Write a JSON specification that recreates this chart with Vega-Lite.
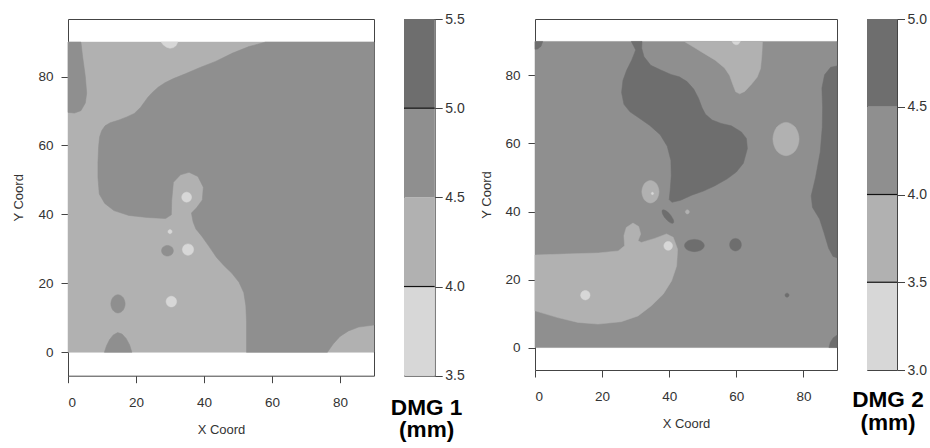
{
"$schema":"https://vega.github.io/schema/vega-lite/v6.json",
"background":"white",
"padding":{"left":12,"top":11,"right":0,"bottom":0},
"config":{
 "font":"Liberation Sans",
 "view":{"stroke":"#444","strokeWidth":1},
 "axis":{"labelFont":"Liberation Sans","labelFontSize":13.5,"labelColor":"#333","titleFont":"Liberation Sans","titleFontSize":13,"titleFontWeight":"normal","titleColor":"#333","tickColor":"#444","tickSize":7,"domain":false,"grid":false}
},
"datasets":{
"d1":[
{"s":"bg","v":4,"x":0,"y":0},{"s":"bg","v":4,"x":90,"y":0},{"s":"bg","v":4,"x":90,"y":90},{"s":"bg","v":4,"x":0,"y":90},
{"s":"pA","v":4.5,"x":58.1,"y":90},{"s":"pA","v":4.5,"x":53.2,"y":88.7},{"s":"pA","v":4.5,"x":48.4,"y":86.8},{"s":"pA","v":4.5,"x":43.4,"y":84.4},{"s":"pA","v":4.5,"x":39.0,"y":82.7},{"s":"pA","v":4.5,"x":34.5,"y":80.8},{"s":"pA","v":4.5,"x":31.0,"y":79.4},{"s":"pA","v":4.5,"x":28.5,"y":78.2},{"s":"pA","v":4.5,"x":26.5,"y":76.9},{"s":"pA","v":4.5,"x":24.8,"y":75.4},{"s":"pA","v":4.5,"x":23.5,"y":74.0},{"s":"pA","v":4.5,"x":21.3,"y":71.0},{"s":"pA","v":4.5,"x":19.5,"y":69.3},{"s":"pA","v":4.5,"x":17.3,"y":68.3},{"s":"pA","v":4.5,"x":15.0,"y":67.4},{"s":"pA","v":4.5,"x":12.4,"y":66.6},{"s":"pA","v":4.5,"x":10.9,"y":65.7},{"s":"pA","v":4.5,"x":9.9,"y":64.3},{"s":"pA","v":4.5,"x":9.3,"y":62.5},{"s":"pA","v":4.5,"x":9.0,"y":59.7},{"s":"pA","v":4.5,"x":8.8,"y":55.0},{"s":"pA","v":4.5,"x":8.8,"y":50.8},{"s":"pA","v":4.5,"x":9.2,"y":45.9},{"s":"pA","v":4.5,"x":10.8,"y":43.2},{"s":"pA","v":4.5,"x":13.5,"y":41.1},{"s":"pA","v":4.5,"x":17.9,"y":39.7},{"s":"pA","v":4.5,"x":23.3,"y":39.1},{"s":"pA","v":4.5,"x":28.7,"y":38.8},{"s":"pA","v":4.5,"x":30.4,"y":39.9},{"s":"pA","v":4.5,"x":30.5,"y":44.0},{"s":"pA","v":4.5,"x":31.0,"y":49.3},{"s":"pA","v":4.5,"x":33.1,"y":51.5},{"s":"pA","v":4.5,"x":35.6,"y":52.2},{"s":"pA","v":4.5,"x":38.2,"y":51.0},{"s":"pA","v":4.5,"x":39.8,"y":47.9},{"s":"pA","v":4.5,"x":39.5,"y":44.2},{"s":"pA","v":4.5,"x":37.8,"y":41.9},{"s":"pA","v":4.5,"x":36.3,"y":40.4},{"s":"pA","v":4.5,"x":36.8,"y":37.8},{"s":"pA","v":4.5,"x":37.6,"y":35.8},{"s":"pA","v":4.5,"x":39.4,"y":33.6},{"s":"pA","v":4.5,"x":41.4,"y":30.8},{"s":"pA","v":4.5,"x":43.7,"y":27.5},{"s":"pA","v":4.5,"x":45.9,"y":25.1},{"s":"pA","v":4.5,"x":48.2,"y":22.9},{"s":"pA","v":4.5,"x":50.3,"y":20.3},{"s":"pA","v":4.5,"x":51.7,"y":17.3},{"s":"pA","v":4.5,"x":52.3,"y":13.5},{"s":"pA","v":4.5,"x":52.5,"y":9.0},{"s":"pA","v":4.5,"x":52.5,"y":0},{"s":"pA","v":4.5,"x":76.3,"y":0},{"s":"pA","v":4.5,"x":78.0,"y":2.4},{"s":"pA","v":4.5,"x":80.0,"y":4.6},{"s":"pA","v":4.5,"x":82.5,"y":6.2},{"s":"pA","v":4.5,"x":85.5,"y":7.3},{"s":"pA","v":4.5,"x":90,"y":7.9},{"s":"pA","v":4.5,"x":90,"y":90},
{"s":"pB","v":4.5,"x":0,"y":90},{"s":"pB","v":4.5,"x":3.8,"y":90},{"s":"pB","v":4.5,"x":4.3,"y":85.8},{"s":"pB","v":4.5,"x":5.1,"y":80},{"s":"pB","v":4.5,"x":5.5,"y":75.2},{"s":"pB","v":4.5,"x":5.1,"y":72.3},{"s":"pB","v":4.5,"x":3.8,"y":70.1},{"s":"pB","v":4.5,"x":1.9,"y":69.4},{"s":"pB","v":4.5,"x":0,"y":69.6},
{"s":"pD","v":4.5,"x":10.7,"y":0},{"s":"pD","v":4.5,"x":11.3,"y":1.8},{"s":"pD","v":4.5,"x":12.2,"y":3.6},{"s":"pD","v":4.5,"x":13.3,"y":5.0},{"s":"pD","v":4.5,"x":14.6,"y":5.7},{"s":"pD","v":4.5,"x":15.9,"y":5.3},{"s":"pD","v":4.5,"x":17.1,"y":4.0},{"s":"pD","v":4.5,"x":18.1,"y":2.2},{"s":"pD","v":4.5,"x":18.8,"y":0},
{"s":"e1","v":4.5,"x":16.8,"y":14.05},{"s":"e1","v":4.5,"x":16.18,"y":15.92},{"s":"e1","v":4.5,"x":14.7,"y":16.7},{"s":"e1","v":4.5,"x":13.22,"y":15.92},{"s":"e1","v":4.5,"x":12.6,"y":14.05},{"s":"e1","v":4.5,"x":13.22,"y":12.18},{"s":"e1","v":4.5,"x":14.7,"y":11.4},{"s":"e1","v":4.5,"x":16.18,"y":12.18},
{"s":"e2","v":4.5,"x":31.0,"y":29.45},{"s":"e2","v":4.5,"x":30.49,"y":30.55},{"s":"e2","v":4.5,"x":29.25,"y":31.0},{"s":"e2","v":4.5,"x":28.01,"y":30.55},{"s":"e2","v":4.5,"x":27.5,"y":29.45},{"s":"e2","v":4.5,"x":28.01,"y":28.35},{"s":"e2","v":4.5,"x":29.25,"y":27.9},{"s":"e2","v":4.5,"x":30.49,"y":28.35},
{"s":"pC","v":3.5,"x":27.4,"y":90},{"s":"pC","v":3.5,"x":28.0,"y":89.2},{"s":"pC","v":3.5,"x":29.0,"y":88.5},{"s":"pC","v":3.5,"x":30.0,"y":88.2},{"s":"pC","v":3.5,"x":31.0,"y":88.4},{"s":"pC","v":3.5,"x":31.8,"y":89.0},{"s":"pC","v":3.5,"x":32.3,"y":90},
{"s":"e3","v":3.5,"x":36.35,"y":45},{"s":"e3","v":3.5,"x":35.93,"y":46.03},{"s":"e3","v":3.5,"x":34.9,"y":46.45},{"s":"e3","v":3.5,"x":33.87,"y":46.03},{"s":"e3","v":3.5,"x":33.45,"y":45},{"s":"e3","v":3.5,"x":33.87,"y":43.97},{"s":"e3","v":3.5,"x":34.9,"y":43.55},{"s":"e3","v":3.5,"x":35.93,"y":43.97},
{"s":"e4","v":3.5,"x":36.95,"y":29.8},{"s":"e4","v":3.5,"x":36.47,"y":30.97},{"s":"e4","v":3.5,"x":35.3,"y":31.45},{"s":"e4","v":3.5,"x":34.13,"y":30.97},{"s":"e4","v":3.5,"x":33.65,"y":29.8},{"s":"e4","v":3.5,"x":34.13,"y":28.63},{"s":"e4","v":3.5,"x":35.3,"y":28.15},{"s":"e4","v":3.5,"x":36.47,"y":28.63},
{"s":"e5","v":3.5,"x":31.95,"y":14.7},{"s":"e5","v":3.5,"x":31.5,"y":15.8},{"s":"e5","v":3.5,"x":30.4,"y":16.25},{"s":"e5","v":3.5,"x":29.3,"y":15.8},{"s":"e5","v":3.5,"x":28.85,"y":14.7},{"s":"e5","v":3.5,"x":29.3,"y":13.6},{"s":"e5","v":3.5,"x":30.4,"y":13.15},{"s":"e5","v":3.5,"x":31.5,"y":13.6},
{"s":"e6","v":3.5,"x":30.6,"y":35},{"s":"e6","v":3.5,"x":30.42,"y":35.42},{"s":"e6","v":3.5,"x":30,"y":35.6},{"s":"e6","v":3.5,"x":29.58,"y":35.42},{"s":"e6","v":3.5,"x":29.4,"y":35},{"s":"e6","v":3.5,"x":29.58,"y":34.58},{"s":"e6","v":3.5,"x":30,"y":34.4},{"s":"e6","v":3.5,"x":30.42,"y":34.58}
],
"d2":[
{"s":"bg","v":4,"x":0,"y":0},{"s":"bg","v":4,"x":90,"y":0},{"s":"bg","v":4,"x":90,"y":90},{"s":"bg","v":4,"x":0,"y":90},
{"s":"pA","v":4.5,"x":28.7,"y":90},{"s":"pA","v":4.5,"x":30.0,"y":87.5},{"s":"pA","v":4.5,"x":28.8,"y":84.5},{"s":"pA","v":4.5,"x":27.3,"y":81.5},{"s":"pA","v":4.5,"x":26.2,"y":78.5},{"s":"pA","v":4.5,"x":25.8,"y":75},{"s":"pA","v":4.5,"x":26.5,"y":71.5},{"s":"pA","v":4.5,"x":28.3,"y":69.3},{"s":"pA","v":4.5,"x":31,"y":67.5},{"s":"pA","v":4.5,"x":34.2,"y":65.3},{"s":"pA","v":4.5,"x":37.3,"y":62.6},{"s":"pA","v":4.5,"x":39.4,"y":59.2},{"s":"pA","v":4.5,"x":40.5,"y":55},{"s":"pA","v":4.5,"x":40.6,"y":50.5},{"s":"pA","v":4.5,"x":40.3,"y":46.5},{"s":"pA","v":4.5,"x":40,"y":43.5},{"s":"pA","v":4.5,"x":40.8,"y":42.7},{"s":"pA","v":4.5,"x":43.4,"y":43.3},{"s":"pA","v":4.5,"x":46.7,"y":44.8},{"s":"pA","v":4.5,"x":50.2,"y":46},{"s":"pA","v":4.5,"x":53.5,"y":47.5},{"s":"pA","v":4.5,"x":57.3,"y":49.6},{"s":"pA","v":4.5,"x":60,"y":51.6},{"s":"pA","v":4.5,"x":62.1,"y":54.2},{"s":"pA","v":4.5,"x":63.3,"y":58.5},{"s":"pA","v":4.5,"x":63,"y":61.5},{"s":"pA","v":4.5,"x":61.5,"y":63.4},{"s":"pA","v":4.5,"x":58.5,"y":65.2},{"s":"pA","v":4.5,"x":55.5,"y":65.9},{"s":"pA","v":4.5,"x":52.8,"y":66.9},{"s":"pA","v":4.5,"x":50.8,"y":68.6},{"s":"pA","v":4.5,"x":49.8,"y":70.5},{"s":"pA","v":4.5,"x":48.7,"y":73.4},{"s":"pA","v":4.5,"x":47.3,"y":76},{"s":"pA","v":4.5,"x":45.3,"y":78.2},{"s":"pA","v":4.5,"x":43,"y":79.6},{"s":"pA","v":4.5,"x":40.5,"y":80.3},{"s":"pA","v":4.5,"x":37.5,"y":81.6},{"s":"pA","v":4.5,"x":34.5,"y":83},{"s":"pA","v":4.5,"x":32.5,"y":85.5},{"s":"pA","v":4.5,"x":31.8,"y":88},{"s":"pA","v":4.5,"x":31.9,"y":90},
{"s":"pB","v":4.5,"x":90,"y":82.8},{"s":"pB","v":4.5,"x":88.1,"y":82.4},{"s":"pB","v":4.5,"x":86.3,"y":80.2},{"s":"pB","v":4.5,"x":85.5,"y":76.3},{"s":"pB","v":4.5,"x":85.7,"y":70.6},{"s":"pB","v":4.5,"x":85.6,"y":64.7},{"s":"pB","v":4.5,"x":85.0,"y":57.5},{"s":"pB","v":4.5,"x":83.6,"y":50.0},{"s":"pB","v":4.5,"x":82.3,"y":44.6},{"s":"pB","v":4.5,"x":82.7,"y":41.2},{"s":"pB","v":4.5,"x":84.8,"y":37.8},{"s":"pB","v":4.5,"x":86.1,"y":33.8},{"s":"pB","v":4.5,"x":87.5,"y":29.2},{"s":"pB","v":4.5,"x":88.8,"y":26.8},{"s":"pB","v":4.5,"x":90,"y":26.4},
{"s":"pC","v":4.5,"x":0,"y":90},{"s":"pC","v":4.5,"x":2.3,"y":90},{"s":"pC","v":4.5,"x":1.8,"y":88.6},{"s":"pC","v":4.5,"x":0.8,"y":87.8},{"s":"pC","v":4.5,"x":0,"y":87.7},
{"s":"pD","v":4.5,"x":87.6,"y":0},{"s":"pD","v":4.5,"x":88.0,"y":1.5},{"s":"pD","v":4.5,"x":88.9,"y":2.9},{"s":"pD","v":4.5,"x":90,"y":3.6},{"s":"pD","v":4.5,"x":90,"y":0},
{"s":"e1","v":4.5,"x":41.2,"y":36.6},{"s":"e1","v":4.5,"x":41.23,"y":37.56},{"s":"e1","v":4.5,"x":40.29,"y":39.08},{"s":"e1","v":4.5,"x":38.94,"y":40.26},{"s":"e1","v":4.5,"x":37.99,"y":40.41},{"s":"e1","v":4.5,"x":37.97,"y":39.44},{"s":"e1","v":4.5,"x":38.91,"y":37.92},{"s":"e1","v":4.5,"x":40.26,"y":36.74},
{"s":"e2","v":4.5,"x":50.45,"y":30},{"s":"e2","v":4.5,"x":49.59,"y":31.27},{"s":"e2","v":4.5,"x":47.5,"y":31.8},{"s":"e2","v":4.5,"x":45.41,"y":31.27},{"s":"e2","v":4.5,"x":44.55,"y":30},{"s":"e2","v":4.5,"x":45.41,"y":28.73},{"s":"e2","v":4.5,"x":47.5,"y":28.2},{"s":"e2","v":4.5,"x":49.59,"y":28.73},
{"s":"e3","v":4.5,"x":61.5,"y":30.25},{"s":"e3","v":4.5,"x":60.99,"y":31.56},{"s":"e3","v":4.5,"x":59.75,"y":32.1},{"s":"e3","v":4.5,"x":58.51,"y":31.56},{"s":"e3","v":4.5,"x":58,"y":30.25},{"s":"e3","v":4.5,"x":58.51,"y":28.94},{"s":"e3","v":4.5,"x":59.75,"y":28.4},{"s":"e3","v":4.5,"x":60.99,"y":28.94},
{"s":"e4","v":4.5,"x":75.7,"y":15.4},{"s":"e4","v":4.5,"x":75.52,"y":15.82},{"s":"e4","v":4.5,"x":75.1,"y":16},{"s":"e4","v":4.5,"x":74.68,"y":15.82},{"s":"e4","v":4.5,"x":74.5,"y":15.4},{"s":"e4","v":4.5,"x":74.68,"y":14.98},{"s":"e4","v":4.5,"x":75.1,"y":14.8},{"s":"e4","v":4.5,"x":75.52,"y":14.98},
{"s":"pE","v":3.5,"x":0,"y":27.2},{"s":"pE","v":3.5,"x":8.8,"y":27.5},{"s":"pE","v":3.5,"x":18.8,"y":27.8},{"s":"pE","v":3.5,"x":24.8,"y":28.4},{"s":"pE","v":3.5,"x":26.7,"y":29.9},{"s":"pE","v":3.5,"x":26.5,"y":32.9},{"s":"pE","v":3.5,"x":27.2,"y":35.3},{"s":"pE","v":3.5,"x":29.2,"y":36.6},{"s":"pE","v":3.5,"x":30.9,"y":35.6},{"s":"pE","v":3.5,"x":31.5,"y":33.4},{"s":"pE","v":3.5,"x":30.7,"y":31.4},{"s":"pE","v":3.5,"x":31.7,"y":30.9},{"s":"pE","v":3.5,"x":35.7,"y":32.1},{"s":"pE","v":3.5,"x":39.2,"y":33.4},{"s":"pE","v":3.5,"x":41.2,"y":32.4},{"s":"pE","v":3.5,"x":42.5,"y":28.9},{"s":"pE","v":3.5,"x":42.2,"y":24.0},{"s":"pE","v":3.5,"x":40.7,"y":19.6},{"s":"pE","v":3.5,"x":38.2,"y":15.7},{"s":"pE","v":3.5,"x":34.7,"y":12.3},{"s":"pE","v":3.5,"x":30.7,"y":9.3},{"s":"pE","v":3.5,"x":25.7,"y":7.6},{"s":"pE","v":3.5,"x":18.8,"y":6.9},{"s":"pE","v":3.5,"x":12.8,"y":7.4},{"s":"pE","v":3.5,"x":6.8,"y":8.8},{"s":"pE","v":3.5,"x":0,"y":10.8},
{"s":"pF","v":3.5,"x":44.5,"y":90},{"s":"pF","v":3.5,"x":47,"y":88.5},{"s":"pF","v":3.5,"x":50,"y":86.7},{"s":"pF","v":3.5,"x":53.7,"y":84.5},{"s":"pF","v":3.5,"x":56.5,"y":82.2},{"s":"pF","v":3.5,"x":58,"y":80},{"s":"pF","v":3.5,"x":58.9,"y":77.5},{"s":"pF","v":3.5,"x":59.8,"y":75.2},{"s":"pF","v":3.5,"x":61,"y":74.6},{"s":"pF","v":3.5,"x":62.5,"y":75.3},{"s":"pF","v":3.5,"x":64.5,"y":77.4},{"s":"pF","v":3.5,"x":66.2,"y":79.5},{"s":"pF","v":3.5,"x":67.2,"y":82},{"s":"pF","v":3.5,"x":67.6,"y":86},{"s":"pF","v":3.5,"x":67.8,"y":90},
{"s":"e5","v":3.5,"x":78.7,"y":61.3},{"s":"e5","v":3.5,"x":77.56,"y":64.76},{"s":"e5","v":3.5,"x":74.8,"y":66.2},{"s":"e5","v":3.5,"x":72.04,"y":64.76},{"s":"e5","v":3.5,"x":70.9,"y":61.3},{"s":"e5","v":3.5,"x":72.04,"y":57.84},{"s":"e5","v":3.5,"x":74.8,"y":56.4},{"s":"e5","v":3.5,"x":77.56,"y":57.84},
{"s":"e6","v":3.5,"x":36.95,"y":45.8},{"s":"e6","v":3.5,"x":36.2,"y":48.13},{"s":"e6","v":3.5,"x":34.4,"y":49.1},{"s":"e6","v":3.5,"x":32.6,"y":48.13},{"s":"e6","v":3.5,"x":31.85,"y":45.8},{"s":"e6","v":3.5,"x":32.6,"y":43.47},{"s":"e6","v":3.5,"x":34.4,"y":42.5},{"s":"e6","v":3.5,"x":36.2,"y":43.47},
{"s":"e7","v":3.5,"x":46,"y":39.9},{"s":"e7","v":3.5,"x":45.82,"y":40.32},{"s":"e7","v":3.5,"x":45.4,"y":40.5},{"s":"e7","v":3.5,"x":44.98,"y":40.32},{"s":"e7","v":3.5,"x":44.8,"y":39.9},{"s":"e7","v":3.5,"x":44.98,"y":39.48},{"s":"e7","v":3.5,"x":45.4,"y":39.3},{"s":"e7","v":3.5,"x":45.82,"y":39.48},
{"s":"e8","v":3,"x":16.4,"y":15.4},{"s":"e8","v":3,"x":15.99,"y":16.39},{"s":"e8","v":3,"x":15,"y":16.8},{"s":"e8","v":3,"x":14.01,"y":16.39},{"s":"e8","v":3,"x":13.6,"y":15.4},{"s":"e8","v":3,"x":14.01,"y":14.41},{"s":"e8","v":3,"x":15,"y":14},{"s":"e8","v":3,"x":15.99,"y":14.41},
{"s":"e9","v":3,"x":41,"y":29.9},{"s":"e9","v":3,"x":40.62,"y":30.82},{"s":"e9","v":3,"x":39.7,"y":31.2},{"s":"e9","v":3,"x":38.78,"y":30.82},{"s":"e9","v":3,"x":38.4,"y":29.9},{"s":"e9","v":3,"x":38.78,"y":28.98},{"s":"e9","v":3,"x":39.7,"y":28.6},{"s":"e9","v":3,"x":40.62,"y":28.98},
{"s":"e10","v":3,"x":35.35,"y":45.3},{"s":"e10","v":3,"x":35.25,"y":45.55},{"s":"e10","v":3,"x":35,"y":45.65},{"s":"e10","v":3,"x":34.75,"y":45.55},{"s":"e10","v":3,"x":34.65,"y":45.3},{"s":"e10","v":3,"x":34.75,"y":45.05},{"s":"e10","v":3,"x":35,"y":44.95},{"s":"e10","v":3,"x":35.25,"y":45.05},
{"s":"pG","v":3,"x":58.7,"y":90},{"s":"pG","v":3,"x":59.2,"y":89.3},{"s":"pG","v":3,"x":59.9,"y":89},{"s":"pG","v":3,"x":60.6,"y":89.2},{"s":"pG","v":3,"x":61.2,"y":90}
]
},
"hconcat":[
{
 "width":306,"height":356.7,
 "data":{"name":"d1"},
 "encoding":{
  "x":{"field":"x","type":"quantitative","scale":{"domain":[0,90],"nice":false,"zero":false},"axis":{"values":[0,20,40,60,80],"title":"X Coord","labelPadding":12.5,"titlePadding":15}},
  "y":{"field":"y","type":"quantitative","scale":{"domain":[-6.8,96.7],"nice":false,"zero":false},"axis":{"values":[0,20,40,60,80],"title":"Y Coord","labelPadding":8,"titlePadding":12}},
  "detail":{"field":"s"},
  "order":{"value":null}
 },
 "layer":[
  {"transform":[{"filter":"datum.v==4"}],"mark":{"type":"line","interpolate":"linear-closed","fill":"#b1b1b1","stroke":"#b1b1b1","strokeWidth":0.5}},
  {"transform":[{"filter":"datum.v==4.5 && substring(datum.s,0,1)=='p'"}],"mark":{"type":"line","interpolate":"linear-closed","fill":"#8f8f8f","stroke":"#8f8f8f","strokeWidth":0.5}},
  {"transform":[{"filter":"datum.v==4.5 && substring(datum.s,0,1)=='e'"}],"mark":{"type":"line","interpolate":"cardinal-closed","fill":"#8f8f8f","stroke":"#8f8f8f","strokeWidth":0.5}},
  {"transform":[{"filter":"datum.v==3.5 && substring(datum.s,0,1)=='p'"}],"mark":{"type":"line","interpolate":"linear-closed","fill":"#d7d7d7","stroke":"#d7d7d7","strokeWidth":0.5}},
  {"transform":[{"filter":"datum.v==3.5 && substring(datum.s,0,1)=='e'"}],"mark":{"type":"line","interpolate":"cardinal-closed","fill":"#d7d7d7","stroke":"#d7d7d7","strokeWidth":0.5}}
 ]
},
{
 "width":30.7,"height":356.7,
 "title":{"text":["DMG 1","(mm)"],"orient":"bottom","frame":"group","anchor":"middle","font":"Liberation Sans","fontSize":22.6,"fontWeight":"bold","color":"black","lineHeight":22.8,"dx":7.3,"offset":14},
 "layer":[
  {"data":{"values":[{"lo":3.5,"hi":4.0},{"lo":4.0,"hi":4.5},{"lo":4.5,"hi":5.0},{"lo":5.0,"hi":5.5}]},
   "mark":{"type":"rect"},
   "encoding":{
    "y":{"field":"lo","type":"quantitative","scale":{"domain":[3.5,5.5],"nice":false,"zero":false},"axis":{"orient":"right","values":[3.5,4,4.5,5,5.5],"format":".1f","title":null,"labelPadding":2.5,"tickSize":7.5,"labelFontSize":14}},
    "y2":{"field":"hi"},
    "color":{"field":"lo","type":"ordinal","scale":{"domain":[3.5,4,4.5,5],"range":["#d7d7d7","#b1b1b1","#8f8f8f","#6e6e6e"]},"legend":null}
   }},
  {"data":{"values":[{"b":4.0},{"b":5.0}]},"mark":{"type":"rule","color":"#111","strokeWidth":1.2},"encoding":{"y":{"field":"b","type":"quantitative"}}}
 ]
},
{
 "width":40,"height":10,"data":{"values":[]},"mark":"point","view":{"stroke":null}
},
{
 "width":302,"height":351,
 "data":{"name":"d2"},
 "encoding":{
  "x":{"field":"x","type":"quantitative","scale":{"domain":[0,90],"nice":false,"zero":false},"axis":{"values":[0,20,40,60,80],"title":"X Coord","labelPadding":12,"titlePadding":15}},
  "y":{"field":"y","type":"quantitative","scale":{"domain":[-6.6,96.6],"nice":false,"zero":false},"axis":{"values":[0,20,40,60,80],"title":"Y Coord","labelPadding":8,"titlePadding":11}},
  "detail":{"field":"s"},
  "order":{"value":null}
 },
 "layer":[
  {"transform":[{"filter":"datum.v==4"}],"mark":{"type":"line","interpolate":"linear-closed","fill":"#8f8f8f","stroke":"#8f8f8f","strokeWidth":0.5}},
  {"transform":[{"filter":"datum.v==4.5 && substring(datum.s,0,1)=='p'"}],"mark":{"type":"line","interpolate":"linear-closed","fill":"#6e6e6e","stroke":"#6e6e6e","strokeWidth":0.5}},
  {"transform":[{"filter":"datum.v==4.5 && substring(datum.s,0,1)=='e'"}],"mark":{"type":"line","interpolate":"cardinal-closed","fill":"#6e6e6e","stroke":"#6e6e6e","strokeWidth":0.5}},
  {"transform":[{"filter":"datum.v==3.5 && substring(datum.s,0,1)=='p'"}],"mark":{"type":"line","interpolate":"linear-closed","fill":"#b1b1b1","stroke":"#b1b1b1","strokeWidth":0.5}},
  {"transform":[{"filter":"datum.v==3.5 && substring(datum.s,0,1)=='e'"}],"mark":{"type":"line","interpolate":"cardinal-closed","fill":"#b1b1b1","stroke":"#b1b1b1","strokeWidth":0.5}},
  {"transform":[{"filter":"datum.v==3 && substring(datum.s,0,1)=='p'"}],"mark":{"type":"line","interpolate":"linear-closed","fill":"#d7d7d7","stroke":"#d7d7d7","strokeWidth":0.5}},
  {"transform":[{"filter":"datum.v==3 && substring(datum.s,0,1)=='e'"}],"mark":{"type":"line","interpolate":"cardinal-closed","fill":"#d7d7d7","stroke":"#d7d7d7","strokeWidth":0.5}}
 ]
},
{
 "width":30,"height":351,
 "title":{"text":["DMG 2","(mm)"],"orient":"bottom","frame":"group","anchor":"middle","font":"Liberation Sans","fontSize":22.6,"fontWeight":"bold","color":"black","lineHeight":22.8,"dx":6,"offset":12},
 "layer":[
  {"data":{"values":[{"lo":3.0,"hi":3.5},{"lo":3.5,"hi":4.0},{"lo":4.0,"hi":4.5},{"lo":4.5,"hi":5.0}]},
   "mark":{"type":"rect"},
   "encoding":{
    "y":{"field":"lo","type":"quantitative","scale":{"domain":[3,5],"nice":false,"zero":false},"axis":{"orient":"right","values":[3,3.5,4,4.5,5],"format":".1f","title":null,"labelPadding":2.5,"tickSize":7.5,"labelFontSize":14}},
    "y2":{"field":"hi"},
    "color":{"field":"lo","type":"ordinal","scale":{"domain":[3,3.5,4,4.5],"range":["#d7d7d7","#b1b1b1","#8f8f8f","#6e6e6e"]},"legend":null}
   }},
  {"data":{"values":[{"b":3.5},{"b":4.0}]},"mark":{"type":"rule","color":"#111","strokeWidth":1.2},"encoding":{"y":{"field":"b","type":"quantitative"}}}
 ]
}
],
"spacing":30,
"bounds":"flush",
"resolve":{"scale":{"x":"independent","y":"independent","color":"independent"}}
}
